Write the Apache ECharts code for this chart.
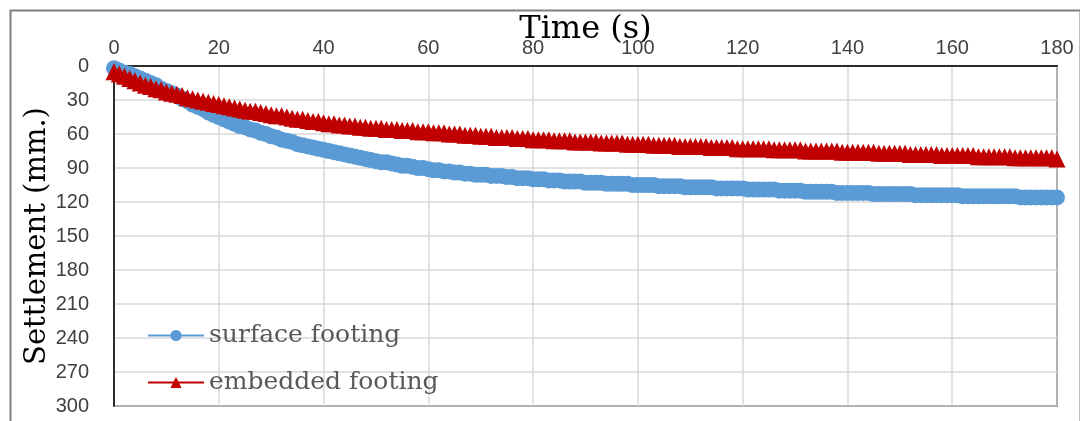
<!DOCTYPE html>
<html>
<head>
<meta charset="utf-8">
<script src="https://cdn.jsdelivr.net/npm/echarts@6/dist/echarts.min.js"></script>
<style>
html,body{margin:0;padding:0;background:#fff;}
#chart{width:1080px;height:421px;}
</style>
</head>
<body>
<div id="chart"></div>
<script>
// Readings taken every second, t = 0 .. 180 s
const timeStart = 0;
const timeStep = 1;
// Settlement (mm.) of the surface footing
const surfaceFooting = [
  2,4,6,7,9,11,13,15,17,20,22,
  24,26,29,31,34,36,38,41,43,45,
  47,49,51,53,54,56,57,59,60,62,
  63,65,66,67,69,70,71,72,73,74,
  75,76,77,78,79,80,81,82,83,84,
  85,85,86,87,88,88,89,90,90,91,
  92,92,93,93,94,94,95,95,96,96,
  96,97,97,97,98,98,99,99,99,100,
  100,100,101,101,101,102,102,102,102,103,
  103,103,103,104,104,104,104,104,105,105,
  105,105,105,106,106,106,106,106,107,107,
  107,107,107,107,108,108,108,108,108,108,
  109,109,109,109,109,109,110,110,110,110,
  110,111,111,111,111,111,111,112,112,112,
  112,112,112,112,113,113,113,113,113,113,
  113,113,114,114,114,114,114,114,114,114,
  114,115,115,115,115,115,115,115,115,115,
  115,115,116,116,116,116,116,116,116,116
];
// Settlement (mm.) of the embedded footing
const embeddedFooting = [
  5,7,9,11,13,15,17,18,20,21,23,
  24,25,26,28,29,30,31,32,33,34,
  35,36,37,38,39,40,40,41,42,43,
  44,44,45,46,47,47,48,49,49,50,
  51,51,52,52,53,53,54,54,55,55,
  55,56,56,56,57,57,57,58,58,58,
  59,59,59,60,60,60,61,61,61,62,
  62,62,63,63,63,63,64,64,64,65,
  65,65,65,66,66,66,66,67,67,67,
  67,67,68,68,68,68,68,69,69,69,
  69,69,70,70,70,70,70,71,71,71,
  71,71,71,72,72,72,72,72,73,73,
  73,73,73,73,73,74,74,74,74,74,
  74,75,75,75,75,75,75,75,76,76,
  76,76,76,76,76,77,77,77,77,77,
  77,78,78,78,78,78,78,79,79,79,
  79,79,79,79,80,80,80,80,80,80,
  80,81,81,81,81,81,81,81,81,82
];
const seriesNames = ['surface footing','embedded footing'];
const xTitle = 'Time (s)';
const yTitle = 'Settlement (mm.)';

const chart = echarts.init(document.getElementById('chart'), null, {renderer:'canvas'});
const pair = (ys) => ys.map((y,i)=>[timeStart + i*timeStep, y]);
const serif = 'DejaVu Serif';
const option = {
  animation: false,
  backgroundColor: '#fff',
  graphic: [{
    type: 'rect', left: 8, top: 8, silent: true,
    shape: {width: 1070, height: 420},
    style: {fill: 'none', stroke: '#7f7f7f', lineWidth: 2}
  }],
  grid: {left: 114, right: 23, top: 66, bottom: 15, show: true, borderColor: '#000', borderWidth: 1.5, backgroundColor: 'transparent'},
  legend: {
    orient: 'vertical', left: 142, top: 318, itemWidth: 56, itemHeight: 14, itemGap: 22,
    textStyle: {fontFamily: serif, fontSize: 25, color: '#595959'},
    data: seriesNames
  },
  xAxis: {
    type: 'value', position: 'top', min: 0, max: 180, interval: 20,
    name: xTitle, nameLocation: 'middle', nameGap: 20, nameMoveOverlap: false,
    nameTextStyle: {fontFamily: serif, fontSize: 32, color: '#000'},
    axisLine: {show: true, lineStyle: {color: '#000', width: 1.5}},
    axisTick: {show: false},
    axisLabel: {margin: 8, fontFamily: 'Liberation Sans', fontSize: 20, color: '#404040'},
    splitLine: {show: true, lineStyle: {color: '#d9d9d9', width: 1.5}}
  },
  yAxis: {
    type: 'value', inverse: true, min: 0, max: 300, interval: 30,
    name: yTitle, nameLocation: 'middle', nameGap: 62, nameMoveOverlap: false,
    nameTextStyle: {fontFamily: serif, fontSize: 29, color: '#000'},
    axisLine: {show: true, lineStyle: {color: '#000', width: 1.5}},
    axisTick: {show: false},
    axisLabel: {margin: 25, fontFamily: 'Liberation Sans', fontSize: 20, color: '#404040'},
    splitLine: {show: true, lineStyle: {color: '#d9d9d9', width: 1.5}}
  },
  series: [
    {
      name: seriesNames[0], type: 'line', data: pair(surfaceFooting),
      symbol: 'circle', symbolSize: 16, showAllSymbol: true,
      lineStyle: {color: '#5B9BD5', width: 3},
      itemStyle: {color: '#5B9BD5'}
    },
    {
      name: seriesNames[1], type: 'line', data: pair(embeddedFooting),
      symbol: 'triangle', symbolSize: 17, showAllSymbol: true,
      lineStyle: {color: '#C00000', width: 3},
      itemStyle: {color: '#C00000'}
    }
  ]
};
chart.setOption(option);
</script>
</body>
</html>
